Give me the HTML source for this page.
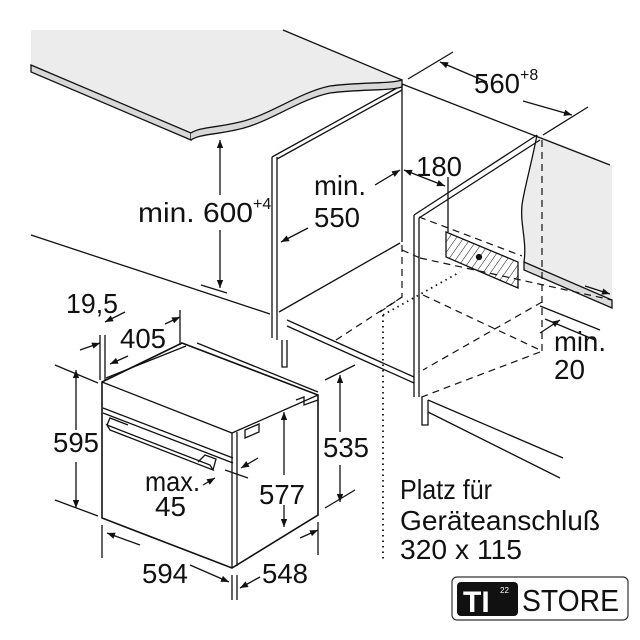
<!DOCTYPE html>
<html><head><meta charset="utf-8"><style>
html,body{margin:0;padding:0;background:#fff;}
svg{display:block}
text{font-family:"Liberation Sans",sans-serif;fill:#111;}
</style></head><body>
<svg width="640" height="640" viewBox="0 0 640 640" xmlns="http://www.w3.org/2000/svg">
<defs>
<marker id="a" viewBox="0 0 10 10" refX="10" refY="5" markerWidth="11" markerHeight="8" orient="auto-start-reverse" markerUnits="userSpaceOnUse"><path d="M0,1 L10,5 L0,9 Z" fill="#111"/></marker>
<pattern id="h" width="6" height="6" patternUnits="userSpaceOnUse" patternTransform="rotate(35)"><line x1="0" y1="0" x2="0" y2="6" stroke="#111" stroke-width="1"/></pattern>
</defs>
<g stroke="#111" stroke-width="1.3" fill="none">
<path d="M537,135 L612,165 L612,300 L524,262 C527,240 520,225 522,205 C524,190 530,170 537,135 Z" fill="#ececec" stroke="none"/>
<path d="M524,262 L612,300 L612,308 L524,270 Z" fill="#dcdcdc"/>
<path d="M537,135 C530,170 524,190 522,205 C520,225 527,240 524,262"/>
<path d="M31,30 L283,30 L402,80 C390,84 360,82 330,86 C300,92 270,115 240,122 C215,128 200,127 191,133 L31,65 Z" fill="#ececec" stroke="none"/>
<path d="M283,30 L402,80"/>
<path d="M31,65 L191,133 L191,140 L31,72 Z" fill="#d8d8d8"/>
<path d="M191,133 C200,127 215,128 240,122 C270,115 300,92 330,86 C360,82 390,84 402,80 L402,87 C390,91 360,89 330,93 C300,99 270,122 240,129 C215,135 200,134 191,140" fill="#d8d8d8"/>
<path d="M402,84 L610,165"/>
<path d="M402,85 L402,242"/>
<path d="M272,157 L272,338 M277,157 L277,340"/>
<path d="M272,157 L397,88 M277,159 L402,90"/>
<path d="M282,340 L282,367 L287,367 L287,340"/>
<path d="M400,243 L279,312"/>
<path d="M31,235 L270,314"/>
<path d="M287,320 L414,377 M287,326 L414,383" />
<path d="M414,215 L414,397 M419,218 L419,397"/>
<path d="M414,215 L537,135 M419,218 L540,140"/>
<path d="M422,397 L422,425 L428,425 L428,400"/>
<path d="M428,400 L563,458 M428,412 L560,478"/>
<path d="M446,232 L518,262 L518,288 L446,257 Z" fill="url(#h)"/>
<circle cx="479" cy="257" r="2.5" fill="#111"/>
<g stroke-dasharray="7,5" stroke-width="1.2">
<path d="M542,140 L542,352"/>
<path d="M419,217 L522,256"/>
<path d="M420,258 L612,300"/>
<path d="M423,295 L540,350"/>
<path d="M540,352 L419,398"/>
<path d="M542,302 L423,370"/>
<path d="M402,245 L402,297 L380,312"/>
<path d="M402,250 L420,258"/>
<path d="M336,340 L402,297"/>
</g>
<path d="M383,315 L460,272 M383,315 L383,562" stroke-dasharray="1.5,4" stroke-width="1.8"/>
<path d="M408,79 L453,52 M543,135 L588,107"/>
<path d="M487,82 L440,62" marker-end="url(#a)"/>
<path d="M523,101 L572,115" marker-end="url(#a)"/>
<path d="M220,195 L220,140" marker-end="url(#a)"/>
<path d="M220,230 L220,288" marker-end="url(#a)"/>
<path d="M201,285 L227,293"/>
<path d="M375,185 L400,170" marker-end="url(#a)"/>
<path d="M308,228 L281,242" marker-end="url(#a)"/>
<path d="M404,170 L445,186" marker-start="url(#a)" marker-end="url(#a)"/>
<path d="M448,177 L448,232"/>
<path d="M585,286 L610,294" marker-end="url(#a)"/>
<path d="M540,306 L600,330 M545,319 L595,340"/>
<path d="M540,333 L560,320" marker-end="url(#a)"/>
<path d="M102,382 L182,343 L318,395 L318,515 L232,568 L102,518 Z" stroke-width="1.6" fill="#fff"/>
<path d="M102,382 L232,433 L318,395 M232,433 L232,568 M237,432 L237,566"/>
<path d="M106,378 L186,346 M197,343 L318,392"/>
<path d="M103,408 L233,458 M103,413 L233,463"/>
<path d="M107,425 L210,465 L213,470 L110,430 Z M107,425 L110,418 L128,425 M198,462 L205,455 L216,459 L213,470"/>
<path d="M245,430 L259,424 L259,432 L245,438 Z" />
<path d="M296,400 L304,397 L304,405 L318,400"/>
<path d="M100,335 L100,380 M105,335 L105,380"/>
<path d="M80,350 L100,343" marker-end="url(#a)"/>
<path d="M125,312 L105,322" marker-end="url(#a)"/>
<path d="M110,364 L128,356" marker-start="url(#a)"/>
<path d="M180,310 L180,345"/>
<path d="M165,324 L180,317" marker-end="url(#a)"/>
<path d="M55,365 L98,383 M55,500 L98,516"/>
<path d="M76,430 L76,370" marker-end="url(#a)"/>
<path d="M76,462 L76,508" marker-end="url(#a)"/>
<path d="M325,380 L355,365 M325,508 L355,490"/>
<path d="M340,432 L340,375" marker-end="url(#a)"/>
<path d="M340,465 L340,502" marker-end="url(#a)"/>
<path d="M284,475 L284,412" marker-end="url(#a)"/>
<path d="M284,505 L284,527" marker-end="url(#a)"/>
<path d="M102,525 L102,558 M232,575 L232,600 M237,575 L237,600 M318,522 L318,555"/>
<path d="M140,545 L107,533" marker-end="url(#a)"/>
<path d="M190,565 L229,582" marker-end="url(#a)"/>
<path d="M260,577 L240,588" marker-end="url(#a)"/>
<path d="M300,538 L318,530" marker-end="url(#a)"/>
<path d="M203,485 L215,478" marker-end="url(#a)"/>
<path d="M258,458 L241,468" marker-end="url(#a)"/>
<path d="M225,470 L248,478"/>
</g>
<g font-size="28">
<text x="474" y="93" textLength="46" lengthAdjust="spacingAndGlyphs">560</text><text x="520" y="80" font-size="16">+8</text>
<text x="138" y="222" textLength="115" lengthAdjust="spacingAndGlyphs">min. 600</text><text x="253" y="209" font-size="16">+4</text>
<text x="314" y="195" textLength="52" lengthAdjust="spacingAndGlyphs">min.</text>
<text x="314" y="227" textLength="46" lengthAdjust="spacingAndGlyphs">550</text>
<text x="416" y="176" textLength="46" lengthAdjust="spacingAndGlyphs">180</text>
<text x="554" y="351" textLength="52" lengthAdjust="spacingAndGlyphs">min.</text>
<text x="554" y="379" textLength="31" lengthAdjust="spacingAndGlyphs">20</text>
<text x="66" y="313" textLength="52" lengthAdjust="spacingAndGlyphs">19,5</text>
<text x="120" y="348" textLength="46" lengthAdjust="spacingAndGlyphs">405</text>
<text x="53" y="452" textLength="46" lengthAdjust="spacingAndGlyphs">595</text>
<text x="323" y="457" textLength="46" lengthAdjust="spacingAndGlyphs">535</text>
<text x="145" y="491" textLength="55" lengthAdjust="spacingAndGlyphs">max.</text>
<text x="155" y="516" textLength="31" lengthAdjust="spacingAndGlyphs">45</text>
<text x="259" y="504" textLength="46" lengthAdjust="spacingAndGlyphs">577</text>
<text x="142" y="583" textLength="46" lengthAdjust="spacingAndGlyphs">594</text>
<text x="262" y="583" textLength="46" lengthAdjust="spacingAndGlyphs">548</text>
<text x="400" y="499" textLength="92" lengthAdjust="spacingAndGlyphs">Platz für</text>
<text x="400" y="530" textLength="200" lengthAdjust="spacingAndGlyphs">Geräteanschluß</text>
<text x="400" y="559" textLength="122" lengthAdjust="spacingAndGlyphs">320 x 115</text>
</g>
<rect x="452" y="577" width="176" height="43" rx="5" fill="#fff" stroke="#333" stroke-width="1.2"/>
<rect x="457" y="582" width="61" height="34" rx="4" fill="#111"/>
<text x="463" y="612" font-size="30" font-weight="bold" style="fill:#fff">TI</text>
<text x="500" y="593" font-size="8" style="fill:#fff">22</text>
<text x="522" y="611" font-size="31" textLength="97" lengthAdjust="spacingAndGlyphs">STORE</text>
</svg>
</body></html>
